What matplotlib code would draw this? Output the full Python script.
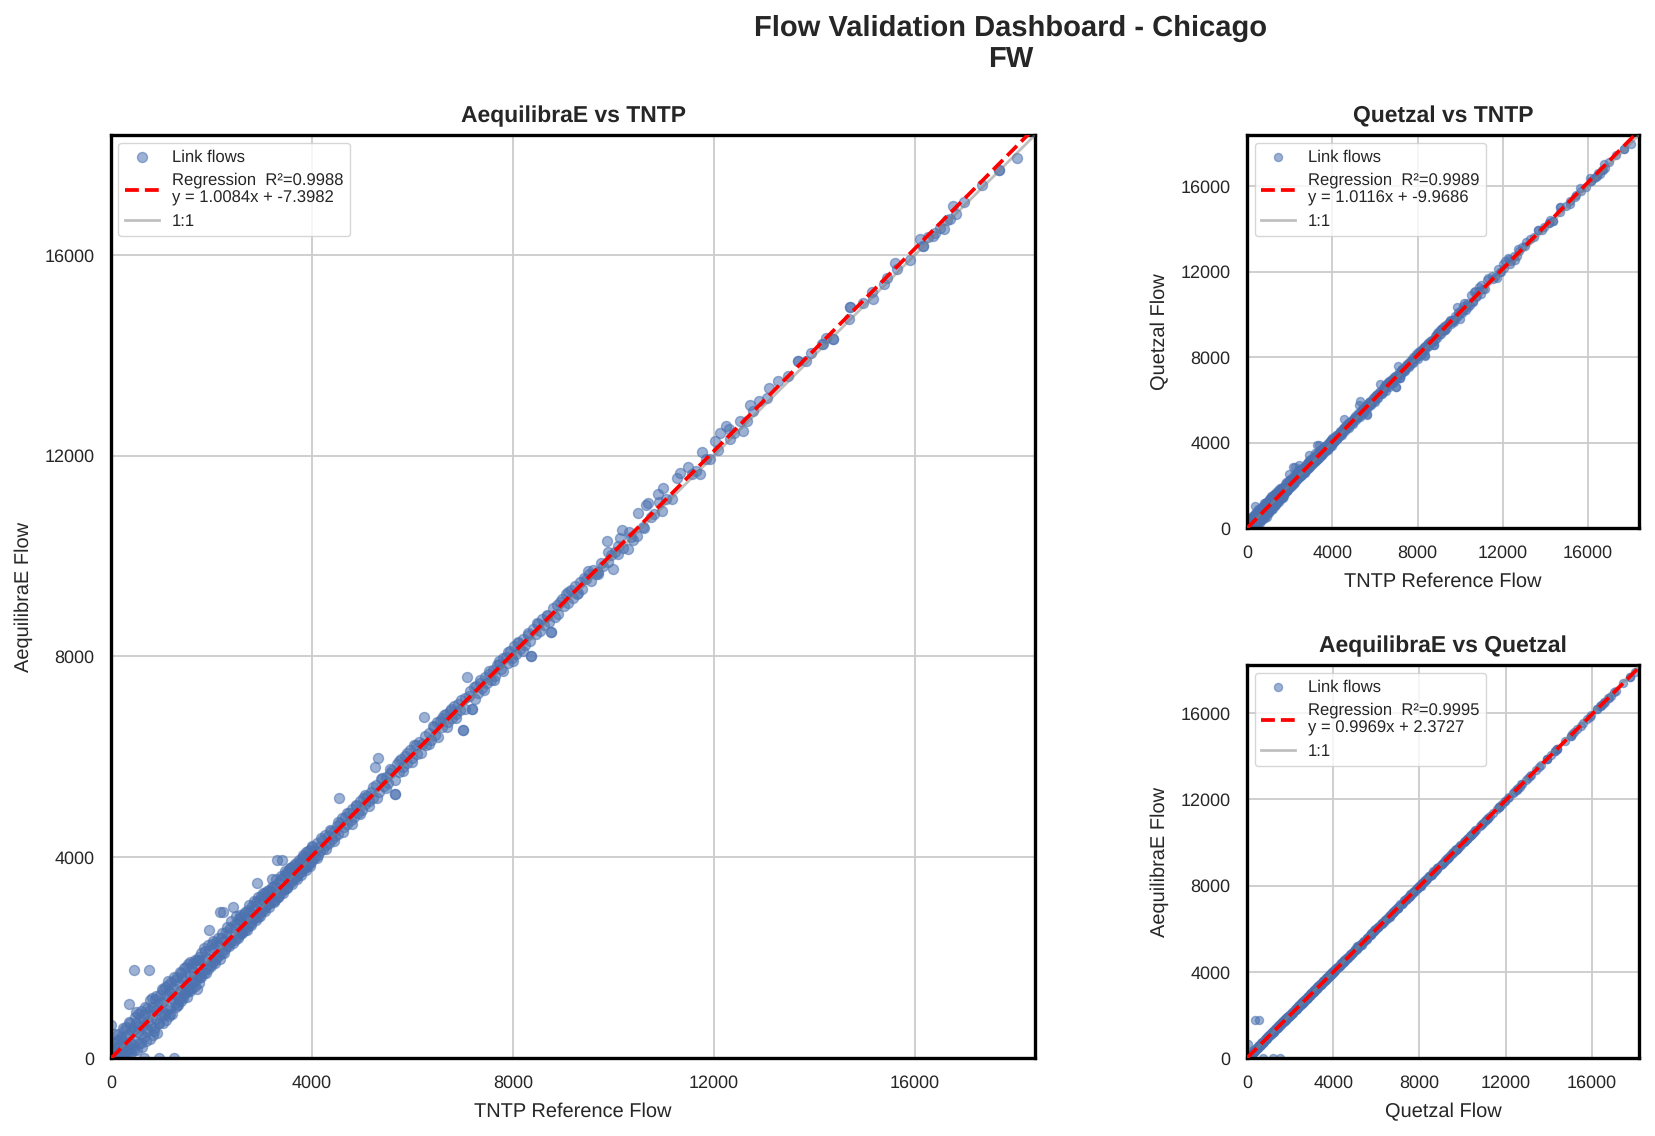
import matplotlib
matplotlib.use("Agg")
import matplotlib.pyplot as plt
import numpy as np

plt.rcParams["font.family"] = ["Liberation Sans", "DejaVu Sans"]
plt.rcParams["text.hinting"] = "none"
TEXT = "#262626"

# link flows, one entry per link
tntp = [
    5, 15, 25, 40, 55, 70, 85, 100, 115, 130,
    140, 155, 170, 185, 200, 215, 230, 245, 260, 275,
    290, 305, 320, 335, 350, 365, 380, 395, 410, 425,
    360, 460, 440, 455, 470, 485, 500, 515, 530, 545,
    560, 575, 590, 605, 620, 635, 650, 660, 680, 695,
    710, 725, 740, 755, 770, 785, 800, 815, 830, 845,
    860, 875, 890, 905, 920, 935, 955, 965, 980, 995,
    1010, 1025, 1040, 1055, 1070, 1085, 1100, 1115, 1130, 1145,
    1160, 1175, 1190, 1205, 1220, 1235, 1250, 1265, 1280, 1295,
    1310, 1325, 1340, 1355, 1370, 1385, 1400, 1415, 1430, 1445,
    1460, 1475, 1490, 1505, 1520, 1535, 1550, 1565, 1580, 1595,
    1610, 1625, 1640, 1655, 1670, 1685, 1700, 1715, 1730, 1745,
    1760, 1780, 1800, 1820, 1840, 1860, 1880, 1900, 1920, 1940,
    1950, 1960, 1985, 2005, 2025, 2045, 2065, 2085, 2105, 2125,
    2145, 2170, 2185, 2205, 2230, 2250, 2270, 2290, 2310, 2330,
    2350, 2370, 2390, 2430, 2440, 2460, 2480, 2500, 2520, 2540,
    2560, 2580, 2600, 2620, 2640, 2660, 2680, 2700, 2720, 2740,
    2760, 2780, 2800, 2820, 2840, 2860, 2880, 2900, 2920, 2940,
    2960, 2980, 3000, 3020, 3040, 3060, 3080, 3100, 3120, 3140,
    3160, 3200, 3180, 3220, 3240, 3260, 3300, 3280, 3320, 3340,
    3360, 3400, 3380, 3420, 3440, 3460, 3480, 3500, 3520, 3540,
    3560, 3580, 3600, 3620, 3640, 3660, 3680, 3700, 3720, 3740,
    3760, 3780, 3800, 3820, 3840, 3860, 3880, 3900, 3920, 3940,
    3960, 3980, 4000, 4020, 4040, 4060, 4090, 4110, 4130, 4160,
    4190, 4220, 4250, 4280, 4310, 4340, 4370, 4400, 4430, 4460,
    4490, 4540, 4520, 4560, 4600, 4630, 4660, 4700, 4730, 4770,
    4800, 4840, 4880, 4910, 4950, 4990, 5020, 5060, 5100, 5140,
    5180, 5250, 5310, 5220, 5280, 5340, 5380, 5430, 5470, 5510,
    5560, 5600, 5650, 5650, 5690, 5730, 5780, 5820, 5860, 5900,
    5950, 5990, 6040, 6090, 6130, 6180, 6230, 6270, 6320, 6360,
    6410, 6450, 6490, 6540, 6580, 6620, 6670, 6710, 6750, 6790,
    6830, 6870, 6910, 6950, 7005, 7005, 7040, 7080, 7120, 7185,
    7185, 7220, 7270, 7310, 7350, 7390, 7440, 7480, 7520, 7560,
    7600, 7640, 7680, 7730, 7770, 7810, 7860, 7900, 7940, 7990,
    8030, 8070, 8110, 8150, 8200, 8240, 8290, 8330, 8360, 8360,
    8400, 8450, 8490, 8530, 8580, 8620, 8670, 8710, 8755, 8755,
    8800, 8840, 8880, 8930, 8970, 9010, 9060, 9100, 9150, 9190,
    9240, 9280, 9330, 9370, 9420, 9460, 9510, 9560, 9600, 9650,
    9700, 9750, 9790, 9870, 9900, 9960, 9990, 10040, 10090, 10130,
    10170, 10200, 10290, 10340, 10390, 10470, 10490, 10590, 10650, 10685,
    10740, 10800, 10885, 10965, 10985, 11050, 11160, 11260, 11320, 11480,
    11560, 11640, 11720, 11760, 11850, 11920, 12020, 12080, 12120, 12240,
    12300, 12320, 12400, 12520, 12580, 12650, 12720, 12780, 12900, 13050,
    13100, 13270, 13470, 13670, 13670, 13830, 13930, 14150, 14170, 14230,
    14370, 14370, 14690, 14700, 14700, 14970, 15140, 15170, 15390, 15450,
    15600, 15650, 15900, 16100, 16160, 16160, 16260, 16360, 16570, 16640,
    16400, 16490, 16695, 16750, 16810, 16980, 17333, 17678, 17678, 18024,
    20, 60, 110, 150, 190, 240, 280, 330, 370, 420,
    450, 500, 540, 590, 630, 680, 720, 770, 810, 860,
    900, 950, 990, 1040, 1080, 1130, 1170, 1220, 1260, 1310,
    1350, 1400, 1440, 1490, 1530, 1580, 1620, 1670, 1710, 1760,
    1800, 1850, 1890, 1940, 1980, 2030, 2070, 2120, 2160, 2210,
    2250, 2300, 2340, 2390, 2430, 2480, 2520, 2570, 2610, 2660,
    2700, 2750, 2790, 2840, 2880, 2930, 2970, 3020, 3060, 3110,
    3150, 3200, 3240, 3290, 3330, 3380, 3420, 3470, 3510, 3560,
    3610, 3650, 3700, 3740, 3790, 3830, 3880, 3920, 3970, 4010,
    4100, 4180, 4270, 4350, 4440, 4520, 4610, 4700, 4790, 4870,
    4960, 5050, 5130, 5220, 5300, 5390, 5470, 5560, 5650, 5730,
    5820, 5900, 5990, 6070, 6160, 6250, 6330, 6420, 6500, 6590,
    6680, 6770, 6860, 6960, 7050, 7150, 7240, 7340, 7430, 7530,
    7620, 7720, 7810, 7910, 8000, 8100, 8190, 8290, 8480, 8680,
    8900, 9100, 9300, 9500, 9700, 9900, 10100, 10300, 10600, 10900,
]
aequilibrae = [
    660, 40, 180, 10, 220, 95, 300, 60, 30, 350,
    470, 20, 250, 120, 420, 75, 310, 180, 550, 35,
    130, 620, 240, 60, 480, 720, 310, 90, 560, 200,
    1075, 1750, 620, 160, 810, 330, 700, 150, 520, 880,
    290, 790, 470, 930, 210, 650, 420, 0, 880, 340,
    1000, 530, 730, 1750, 380, 1150, 640, 860, 450, 1020,
    600, 1180, 780, 960, 500, 1080, 0, 700, 1250, 880,
    1380, 690, 1130, 860, 1420, 760, 1250, 960, 1450, 830,
    1330, 1000, 1520, 1190, 880, 1400, 0, 1100, 1560, 1010,
    1620, 1210, 1050, 1480, 1720, 1130, 1350, 1600, 1190, 1390,
    1800, 1290, 1600, 1210, 1480, 1880, 1380, 1660, 1330, 1790,
    1400, 1900, 1560, 1710, 1430, 1850, 1560, 1960, 1620, 1490,
    1950, 1620, 2100, 1720, 1960, 1690, 2130, 1800, 2000, 1780,
    2560, 2150, 1830, 2280, 1920, 2200, 1960, 2320, 2010, 2250,
    2060, 2900, 2400, 2100, 2900, 2330, 2170, 2520, 2240, 2450,
    2290, 2600, 2330, 3010, 2640, 2360, 2590, 2680, 2430, 2760,
    2470, 2800, 2510, 2700, 2860, 2560, 2790, 2620, 2950, 2640,
    2900, 2680, 3020, 2760, 2960, 2780, 3100, 3480, 2800, 3150,
    2890, 3230, 2930, 3140, 2960, 3280, 3020, 3200, 3060, 3340,
    3080, 3560, 3330, 3120, 3420, 3150, 3940, 3380, 3210, 3500,
    3260, 3950, 3560, 3340, 3630, 3370, 3690, 3400, 3720, 3480,
    3780, 3500, 3810, 3560, 3740, 3590, 3880, 3630, 3840, 3680,
    3900, 3700, 3980, 3760, 4020, 3790, 4100, 3820, 4000, 3860,
    4150, 3900, 4230, 3960, 4110, 4000, 4280, 4050, 4210, 4120,
    4340, 4160, 4450, 4240, 4420, 4290, 4520, 4360, 4530, 4420,
    4630, 5175, 4470, 4680, 4790, 4600, 4810, 4660, 4890, 4750,
    4960, 4800, 5030, 4890, 5130, 4950, 5180, 5060, 5220, 5120,
    5300, 5790, 5970, 5180, 5440, 5290, 5560, 5420, 5590, 5480,
    5680, 5740, 5255, 5255, 5850, 5700, 5960, 5800, 6020, 5880,
    6130, 5970, 6230, 6060, 6300, 6260, 6785, 6240, 6480, 6330,
    6620, 6440, 6700, 6720, 6600, 6830, 6860, 6700, 6920, 6780,
    7010, 6850, 7050, 6930, 6530, 6530, 7170, 7600, 7210, 6960,
    6960, 7390, 7420, 7280, 7470, 7370, 7590, 7470, 7660, 7540,
    7740, 7620, 7830, 7850, 7750, 7960, 7990, 7880, 8110, 7970,
    8200, 8050, 8260, 8140, 8340, 8220, 8430, 8310, 8000, 8000,
    8550, 8440, 8640, 8510, 8740, 8620, 8800, 8690, 8480, 8480,
    8970, 8790, 9020, 9090, 9150, 9000, 9250, 9060, 9330, 9170,
    9400, 9250, 9480, 9350, 9560, 9540, 9650, 9500, 9720, 9640,
    9680, 9870, 9810, 10310, 9890, 10030, 9750, 10080, 10200, 10370,
    10510, 10170, 10150, 10390, 10320, 10410, 10850, 10570, 11020, 11060,
    10780, 10830, 11240, 10900, 11360, 11130, 11140, 11560, 11660, 11780,
    11640, 11700, 11640, 12080, 11930, 11940, 12300, 12120, 12460, 12600,
    12540, 12340, 12460, 12700, 12500, 12700, 13015, 12900, 13095, 13150,
    13350, 13490, 13590, 13890, 13890, 13890, 14050, 14230, 14230, 14350,
    14330, 14330, 14725, 14965, 14965, 15050, 15260, 15120, 15420, 15550,
    15840, 15720, 15900, 16320, 16179, 16179, 16350, 16377, 16517, 16700,
    16440, 16540, 16716, 16975, 16810, 17055, 17386, 17685, 17685, 17924,
    320, 480, 200, 90, 350, 600, 420, 150, 700, 280,
    550, 920, 610, 300, 800, 1010, 600, 950, 1200, 540,
    1240, 700, 1100, 1350, 900, 1530, 880, 1300, 1620, 1050,
    1150, 1700, 1250, 1820, 1330, 1920, 1520, 1950, 1380, 2020,
    1620, 2200, 1700, 2260, 1850, 2340, 1900, 2400, 1980, 2500,
    2100, 2620, 2240, 2730, 2300, 2820, 2400, 2850, 2500, 2900,
    2560, 3050, 2650, 3120, 2740, 3210, 2830, 3280, 2920, 3330,
    3000, 3400, 3100, 3570, 3200, 3620, 3280, 3720, 3390, 3780,
    3470, 3850, 3560, 3950, 3650, 4040, 3750, 4130, 3830, 4200,
    3990, 4390, 4170, 4540, 4330, 4700, 4510, 4880, 4670, 5040,
    4860, 5250, 5030, 5400, 5190, 5580, 5370, 5750, 5540, 5920,
    5720, 6080, 5890, 6240, 6070, 6420, 6250, 6600, 6400, 6770,
    6590, 6960, 6770, 7130, 6960, 7320, 7150, 7530, 7340, 7710,
    7530, 7900, 7720, 8090, 7910, 8280, 8110, 8470, 8660, 8830,
    8850, 9290, 9260, 9700, 9640, 10090, 10040, 10490, 10560, 11080,
]
quetzal = [
    40, 60, 200, 30, 230, 110, 310, 70, 50, 360,
    440, 40, 270, 100, 450, 60, 330, 170, 530, 60,
    150, 600, 220, 80, 500, 690, 330, 110, 580, 180,
    1010, 370, 640, 140, 790, 350, 680, 170, 500, 860,
    310, 770, 490, 910, 230, 630, 440, 740, 860, 360,
    970, 550, 710, 570, 400, 1120, 660, 840, 470, 1000,
    620, 1150, 800, 940, 520, 1060, 1210, 720, 1220, 900,
    1350, 710, 1110, 880, 1390, 780, 1230, 980, 1420, 850,
    1310, 1020, 1490, 1210, 900, 1370, 1530, 1120, 1530, 1030,
    1590, 1230, 1070, 1460, 1690, 1150, 1330, 1570, 1210, 1370,
    1770, 1310, 1580, 1230, 1460, 1850, 1400, 1640, 1350, 1770,
    1420, 1870, 1580, 1690, 1450, 1820, 1580, 1930, 1640, 1510,
    1930, 1640, 2070, 1740, 1940, 1710, 2100, 1820, 1980, 1800,
    2520, 2130, 1850, 2250, 1940, 2180, 1980, 2290, 2030, 2230,
    2080, 2860, 2380, 2120, 2860, 2310, 2190, 2490, 2260, 2430,
    2310, 2570, 2350, 2970, 2620, 2380, 2570, 2650, 2450, 2730,
    2490, 2770, 2530, 2680, 2830, 2580, 2770, 2640, 2910, 2660,
    2880, 2700, 2990, 2780, 2940, 2800, 3070, 3430, 2820, 3120,
    2910, 3200, 2950, 3120, 2980, 3250, 3040, 3180, 3080, 3310,
    3100, 3510, 3310, 3140, 3390, 3170, 3880, 3360, 3230, 3470,
    3280, 3890, 3540, 3360, 3600, 3390, 3660, 3420, 3690, 3500,
    3760, 3520, 3780, 3580, 3720, 3610, 3850, 3650, 3810, 3700,
    3880, 3720, 3950, 3780, 3990, 3810, 4070, 3840, 3980, 3880,
    4120, 3920, 4200, 3980, 4090, 4020, 4250, 4070, 4190, 4140,
    4320, 4180, 4420, 4260, 4400, 4310, 4490, 4380, 4510, 4440,
    4610, 5110, 4490, 4670, 4770, 4620, 4790, 4680, 4870, 4770,
    4950, 4820, 5020, 4910, 5110, 4970, 5170, 5080, 5210, 5140,
    5290, 5750, 5920, 5200, 5430, 5310, 5550, 5440, 5580, 5500,
    5670, 5760, 5300, 5320, 5840, 5720, 5950, 5820, 6010, 5900,
    6130, 5990, 6230, 6080, 6300, 6280, 6750, 6260, 6480, 6350,
    6620, 6470, 6700, 6740, 6620, 6840, 6870, 6720, 6930, 6800,
    7020, 6870, 7060, 6950, 6600, 6620, 7180, 7560, 7220, 7020,
    7020, 7400, 7430, 7300, 7490, 7390, 7610, 7490, 7670, 7560,
    7760, 7640, 7850, 7870, 7780, 7980, 8010, 7900, 8130, 7990,
    8220, 8070, 8280, 8160, 8360, 8240, 8450, 8330, 8060, 8080,
    8570, 8470, 8660, 8530, 8760, 8650, 8820, 8720, 8540, 8560,
    9000, 8820, 9050, 9120, 9180, 9030, 9280, 9090, 9360, 9200,
    9430, 9280, 9510, 9380, 9590, 9570, 9680, 9530, 9750, 9670,
    9710, 9900, 9840, 10340, 9920, 10060, 9790, 10110, 10230, 10400,
    10540, 10200, 10180, 10420, 10350, 10440, 10880, 10600, 11050, 11090,
    10810, 10860, 11270, 10940, 11390, 11170, 11170, 11590, 11690, 11810,
    11670, 11730, 11680, 12110, 11970, 11980, 12340, 12150, 12490, 12640,
    12570, 12370, 12500, 12730, 12540, 12740, 13050, 12940, 13130, 13190,
    13390, 13530, 13630, 13930, 13930, 13930, 14090, 14270, 14270, 14390,
    14370, 14370, 14770, 15010, 15010, 15090, 15300, 15170, 15470, 15600,
    15890, 15770, 15950, 16370, 16230, 16230, 16400, 16430, 16570, 16750,
    16490, 16590, 16770, 17030, 16860, 17110, 17440, 17740, 17740, 17980,
    300, 460, 220, 110, 330, 570, 440, 170, 670, 300,
    570, 890, 630, 320, 780, 980, 620, 930, 1160, 560,
    1210, 720, 1080, 1320, 920, 1490, 900, 1280, 1580, 1070,
    1170, 1660, 1270, 1780, 1350, 1880, 1540, 1910, 1400, 1980,
    1640, 2160, 1720, 2220, 1870, 2300, 1920, 2360, 2000, 2460,
    2120, 2580, 2260, 2700, 2320, 2780, 2420, 2810, 2520, 2860,
    2580, 3010, 2670, 3090, 2760, 3170, 2850, 3240, 2940, 3300,
    3020, 3370, 3120, 3530, 3220, 3590, 3300, 3680, 3410, 3750,
    3490, 3820, 3580, 3920, 3670, 4010, 3770, 4100, 3850, 4170,
    4010, 4370, 4190, 4520, 4350, 4680, 4530, 4860, 4690, 5020,
    4880, 5230, 5050, 5380, 5210, 5560, 5390, 5730, 5560, 5900,
    5740, 6060, 5910, 6220, 6090, 6400, 6270, 6580, 6420, 6750,
    6610, 6940, 6790, 7110, 6980, 7300, 7170, 7510, 7360, 7690,
    7550, 7880, 7740, 8070, 7930, 8260, 8130, 8450, 8640, 8810,
    8870, 9310, 9280, 9720, 9660, 10110, 10060, 10510, 10590, 11110,
]

main_ticks = [0, 4000, 8000, 12000, 16000]

W, H = 1655, 1136
fig = plt.figure(figsize=(W / 100, H / 100), dpi=100)


def px_axes(left, top, right, bottom):
    return fig.add_axes([left / W, 1 - bottom / H, (right - left) / W, (bottom - top) / H])


def panel(ax, x, y, title, xlabel, ylabel, r2, slope, icpt, xlim, ylim, line_end, size):
    ax.grid(True, color="#cccccc", linewidth=1.3)
    ax.set_axisbelow(True)
    ax.scatter(x, y, s=size, color="#4C72B0", alpha=0.55, linewidths=1, label="Link flows")
    xs = np.array([0, xlim])
    ax.plot(xs, slope * xs + icpt, color="red", linestyle="--", linewidth=2.7,
            label=f"Regression  R²={r2:.4f}\ny = {slope:.4f}x + {icpt:.4f}", zorder=4)
    ax.plot([0, line_end], [0, line_end], color="gray", alpha=0.5, linewidth=2, label="1:1", zorder=3)
    ax.set_xlim(0, xlim)
    ax.set_ylim(0, ylim)
    ax.set_xticks(main_ticks)
    ax.set_yticks(main_ticks)
    ax.tick_params(length=0, labelsize=13, labelcolor=TEXT, pad=12)
    ax.set_title(title, fontsize=16.5, fontweight="bold", color=TEXT, pad=9)
    ax.set_xlabel(xlabel, fontsize=14.4, color=TEXT, labelpad=8)
    ax.set_ylabel(ylabel, fontsize=14.4, color=TEXT, labelpad=8)
    for s in ax.spines.values():
        s.set_linewidth(2.4)
        s.set_color("black")
    # legend order like in the dashboard
    h, l = ax.get_legend_handles_labels()
    order = [l.index("Link flows"), [i for i, t in enumerate(l) if t.startswith("Regr")][0], l.index("1:1")]
    ax.legend([h[i] for i in order], [l[i] for i in order], loc="upper left", fontsize=12,
              frameon=True, framealpha=0.8, edgecolor="#cccccc", labelcolor=TEXT,
              labelspacing=0.43, borderaxespad=0.45)


ax1 = px_axes(111, 135, 1035, 1058)
panel(ax1, tntp, aequilibrae, "AequilibraE vs TNTP", "TNTP Reference Flow", "AequilibraE Flow",
      0.9988, 1.0084, -7.3982, 18390, 18390, 18390, 52)

ax2 = px_axes(1247, 135, 1639, 528)
panel(ax2, tntp, quetzal, "Quetzal vs TNTP", "TNTP Reference Flow", "Quetzal Flow",
      0.9989, 1.0116, -9.9686, 18390, 18390, 18390, 34)

ax3 = px_axes(1247, 665, 1639, 1058)
panel(ax3, quetzal, aequilibrae, "AequilibraE vs Quetzal", "Quetzal Flow", "AequilibraE Flow",
      0.9995, 0.9969, 2.3727, 18180, 18240, 18100, 34)

fig.suptitle("Flow Validation Dashboard - Chicago\nFW", x=0.6105, y=0.987, fontsize=21,
             fontweight="bold", color=TEXT, linespacing=1.2)

fig.savefig("out.png", dpi=100)
plt.close(fig)
